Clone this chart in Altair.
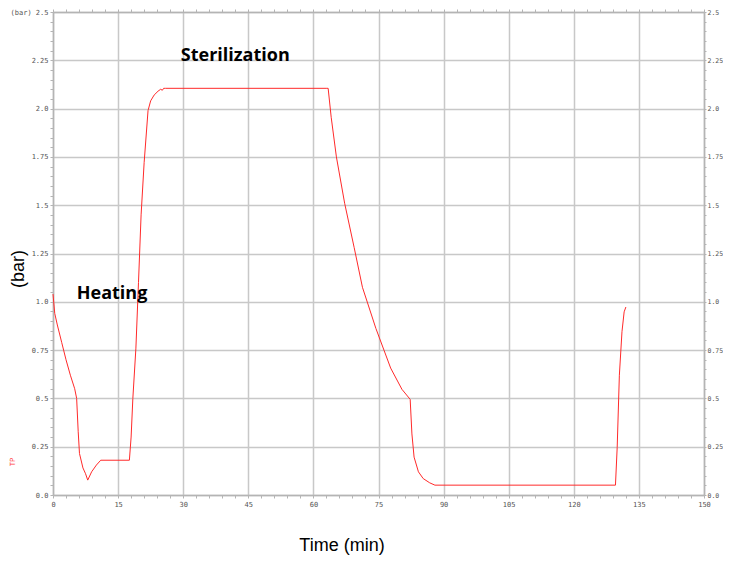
import altair as alt
import pandas as pd

# ---- data ----
time_min = [0.0, 0.4, 1.0, 2.0, 3.0, 4.0, 5.0, 5.45, 5.8, 6.1, 6.9, 7.5, 8.0, 8.9,
            10.0, 11.0, 17.6, 18.0, 18.4, 19.1, 19.7, 20.3, 21.0, 21.9, 22.5, 23.3,
            24.2, 24.8, 25.2, 25.5, 25.9, 63.1, 63.4, 64.1, 65.3, 67.2, 69.4, 71.3,
            74.4, 77.8, 80.4, 82.3, 82.7, 83.2, 84.2, 85.3, 86.8, 88.0, 129.6, 130.0,
            130.5, 131.1, 131.6, 132.0]
pressure_bar = [1.04, 0.94, 0.88, 0.79, 0.70, 0.62, 0.55, 0.50, 0.33, 0.215, 0.14, 0.11,
                0.077, 0.12, 0.155, 0.18, 0.18, 0.30, 0.50, 0.76, 1.10, 1.45, 1.72, 1.99,
                2.04, 2.07, 2.09, 2.10, 2.095, 2.105, 2.105, 2.105, 2.105, 1.955, 1.75,
                1.51, 1.28, 1.075, 0.862, 0.657, 0.547, 0.495, 0.316, 0.196, 0.12, 0.085,
                0.063, 0.051, 0.051, 0.247, 0.62, 0.845, 0.948, 0.973]

y_tick_values = [0.0, 0.25, 0.5, 0.75, 1.0, 1.25, 1.5, 1.75, 2.0, 2.25, 2.5]
y_tick_labels_left = ["0.0", "0.25", "0.5", "0.75", "1.0", "1.25", "1.5", "1.75",
                      "2.0", "2.25", "(bar) 2.5"]
y_tick_labels_right = ["0.0", "0.25", "0.5", "0.75", "1.0", "1.25", "1.5", "1.75",
                       "2.0", "2.25", "2.5"]
x_tick_values = [0, 15, 30, 45, 60, 75, 90, 105, 120, 135, 150]
x_tick_labels = ["0", "15", "30", "45", "60", "75", "90", "105", "120", "135", "150"]

annot_text = ["Heating", "Sterilization"]
annot_x = [13.6, 42.0]
annot_y = [1.04, 2.27]

x_minor = [i * 3 for i in range(51)]
y_minor = [round(i * 0.05, 2) for i in range(51)]

df = pd.DataFrame({"t": time_min, "p": pressure_bar})
ann = pd.DataFrame({"label": annot_text, "x": annot_x, "y": annot_y})


def label_expr(values, labels):
    expr = "''"
    for v, l in reversed(list(zip(values, labels))):
        expr = f"abs(datum.value - {v}) < 1e-6 ? '{l}' : ({expr})"
    return expr


def major_test(values):
    return " || ".join(f"abs(datum.value - {v}) < 1e-6" for v in values)


AX_COL = "#b4b4b4"
GRID_COL = "#c8c8c8"
LAB_COL = "#555555"
MONO = "DejaVu Sans Mono"

common = dict(domainColor=AX_COL, domainWidth=1.5, tickColor=AX_COL,
              labelFont=MONO, labelColor=LAB_COL,
              labelOverlap=False, labelFlush=False, title=None)

x_scale = alt.Scale(domain=[0, 150], nice=False, zero=False)
y_scale = alt.Scale(domain=[0, 2.5], nice=False, zero=False)

x_bottom = alt.Axis(orient="bottom", values=x_minor,
                    labelExpr=label_expr(x_tick_values, x_tick_labels),
                    grid=True, gridColor=GRID_COL, gridWidth=1.5,
                    gridOpacity={"condition": {"test": major_test(x_tick_values), "value": 1}, "value": 0},
                    tickSize=3, labelPadding=2, labelFontSize=7, **common)
y_left = alt.Axis(orient="left", values=y_minor,
                  labelExpr=label_expr(y_tick_values, y_tick_labels_left),
                  grid=True, gridColor=GRID_COL, gridWidth=1.5,
                  gridOpacity={"condition": {"test": major_test(y_tick_values), "value": 1}, "value": 0},
                  tickSize=3, labelPadding=2, labelFontSize=7, **common)
x_top = alt.Axis(orient="top", values=x_minor, labels=False, grid=False,
                 tickSize=3, **common)
y_right = alt.Axis(orient="right", values=y_minor,
                   labelExpr=label_expr(y_tick_values, y_tick_labels_right),
                   grid=False, tickSize=2, labelPadding=1, labelFontSize=6.5, **common)

line = alt.Chart(df).mark_line(color="#ff2a2a", strokeWidth=1, interpolate="linear").encode(
    x=alt.X("t:Q", scale=x_scale, axis=x_bottom),
    y=alt.Y("p:Q", scale=y_scale, axis=y_left),
)

frame = alt.Chart(df).mark_line(strokeOpacity=0).encode(
    x=alt.X("t:Q", scale=x_scale, axis=x_top),
    y=alt.Y("p:Q", scale=y_scale, axis=y_right),
)

annots = alt.Chart(ann).mark_text(font="Open Sans", fontWeight="bold", fontSize=18,
                                  color="black", align="center", baseline="middle").encode(
    x=alt.X("x:Q", scale=x_scale, axis=None),
    y=alt.Y("y:Q", scale=y_scale, axis=None),
    text="label:N",
)

bar_title = alt.Chart(pd.DataFrame({"s": ["(bar)"]})).mark_text(
    font="Liberation Sans", fontSize=18, angle=270, color="black",
    align="center", baseline="middle").encode(
    x=alt.value(-34), y=alt.value(257), text="s:N")

tp_label = alt.Chart(pd.DataFrame({"s": ["TP"]})).mark_text(
    font=MONO, fontSize=7, angle=270, color="#ff4040",
    align="center", baseline="middle").encode(
    x=alt.value(-40), y=alt.value(450), text="s:N")

x_title = alt.Chart(pd.DataFrame({"s": ["Time (min)"]})).mark_text(
    font="Liberation Sans", fontSize=18, color="black",
    align="center", baseline="middle").encode(
    x=alt.value(289), y=alt.value(534), text="s:N")

chart = alt.layer(line, frame, annots, bar_title, tp_label, x_title).resolve_axis(
    x="independent", y="independent"
).properties(
    width=651, height=483,
    autosize=alt.AutoSizeParams(type="none"),
    padding={"left": 45, "top": 4, "right": 19, "bottom": 60},
).configure_view(stroke=None).configure(background="white")

chart.save("out.html", embed_options={"renderer": "svg", "actions": False})
